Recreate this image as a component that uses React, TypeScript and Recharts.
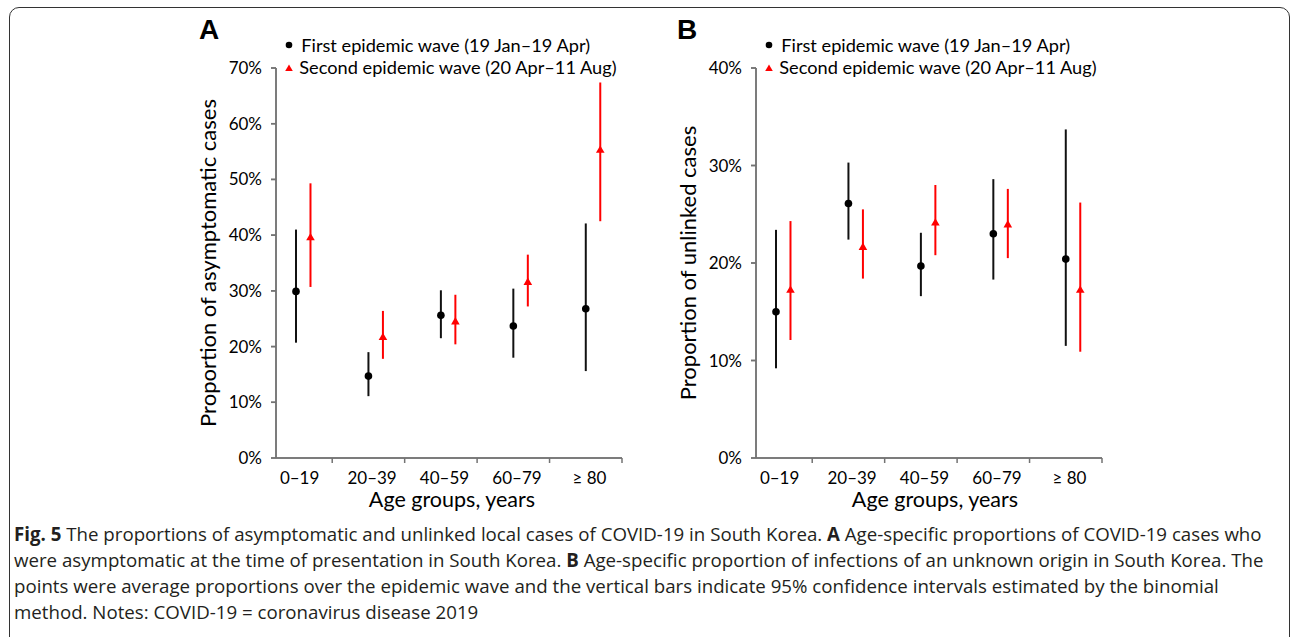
import { ErrorBar, Legend, ReferenceLine, Scatter, ScatterChart, XAxis, YAxis } from "recharts";

const ageGroups = ["0–19", "20–39", "40–59", "60–79", "≥ 80"];
const waveNames = [
  "First epidemic wave (19 Jan–19 Apr)",
  "Second epidemic wave (20 Apr–11 Aug)",
];

// Panel A: proportion of asymptomatic cases (%), point + 95% CI
const asymFirst = [29.9, 14.7, 25.6, 23.7, 26.8];
const asymFirstLow = [20.7, 11.1, 21.5, 18.0, 15.6];
const asymFirstHigh = [41.0, 19.0, 30.1, 30.4, 42.1];
const asymSecond = [39.7, 21.8, 24.6, 31.7, 55.4];
const asymSecondLow = [30.7, 17.8, 20.4, 27.2, 42.5];
const asymSecondHigh = [49.3, 26.4, 29.3, 36.5, 67.4];

// Panel B: proportion of unlinked cases (%)
const unlinkedFirst = [15.0, 26.1, 19.7, 23.0, 20.4];
const unlinkedFirstLow = [9.2, 22.4, 16.6, 18.3, 11.5];
const unlinkedFirstHigh = [23.4, 30.3, 23.1, 28.6, 33.7];
const unlinkedSecond = [17.3, 21.7, 24.2, 24.0, 17.3];
const unlinkedSecondLow = [12.1, 18.4, 20.8, 20.5, 10.9];
const unlinkedSecondHigh = [24.3, 25.5, 28.0, 27.6, 26.2];

const ticksA = [0, 10, 20, 30, 40, 50, 60, 70];
const ticksB = [0, 10, 20, 30, 40];

const FONT = "Lato, 'Open Sans', sans-serif";
const AXIS_GREY = "#737373";
const RED = "#ff0000";
const axisStroke = { stroke: AXIS_GREY, strokeWidth: 1.5 };

// x positions: group i sits at i+1, the two waves dodge left/right
const DODGE = 0.1;
const xDomain = [0.624, 5.4];
const boundaryTicks = ageGroups.map((_, i) => i + 1.4);
const labelTicks = ageGroups.map((_, i) => i + 0.95);
// tick mark length as a share of the axis spans (about 5px)
const TICK_X = 0.069;
const TICK_Y_SHARE = 5 / 390;

type Row = { x: number; y: number; err: [number, number] };

function makeRows(mid: number[], low: number[], high: number[], shift: number): Row[] {
  return mid.map((v, i) => ({
    x: i + 1 + shift,
    y: v,
    err: [v - low[i], high[i] - v],
  }));
}

const Dot = (p: any) => <circle cx={p.cx} cy={p.cy} r={3.8} fill="#000" />;
const Tri = (p: any) => (
  <polygon
    points={`${p.cx},${p.cy - 3.9} ${p.cx - 4.3},${p.cy + 3.5} ${p.cx + 4.3},${p.cy + 3.5}`}
    fill={RED}
  />
);

function WaveLegend({ payload }: any) {
  return (
    <div style={{ fontFamily: FONT, fontSize: 18.2, lineHeight: "22.7px", color: "#000" }}>
      {(payload ?? []).map((p: any, i: number) => (
        <div key={p.value} style={{ display: "flex", alignItems: "center", whiteSpace: "nowrap" }}>
          <svg width={10} height={10} style={{ marginRight: i === 0 ? 7 : 5 }}>
            {i === 0 ? (
              <circle cx={5} cy={5} r={3.3} fill={p.color} />
            ) : (
              <polygon points="5,1.5 1.2,8 8.8,8" fill={p.color} />
            )}
          </svg>
          <span>{p.value}</span>
        </div>
      ))}
    </div>
  );
}

type PanelProps = {
  left: number;
  first: Row[];
  second: Row[];
  yMax: number;
  yTicks: number[];
  yTitle: string;
  xTitleDx: number;
};

function Panel({ left, first, second, yMax, yTicks, yTitle, xTitleDx }: PanelProps) {
  const tickY = yMax * TICK_Y_SHARE;
  return (
    <div style={{ position: "absolute", left, top: 0, fontFamily: FONT }}>
      <ScatterChart
        width={460}
        height={530}
        margin={{ top: 68, right: 18, bottom: 19, left: 16 }}
      >
        {/* axis line with tick marks between the groups */}
        <XAxis
          xAxisId="a1"
          type="number"
          dataKey="x"
          domain={xDomain}
          ticks={boundaryTicks}
          tick={false}
          tickSize={5}
          height={5}
          stroke={AXIS_GREY}
          axisLine={axisStroke}
          tickLine={axisStroke}
        />
        {/* group names and axis title (same domain, used by the second wave) */}
        <XAxis
          xAxisId="b2"
          type="number"
          dataKey="x"
          domain={xDomain}
          ticks={labelTicks}
          tickFormatter={(v: number) => ageGroups[Math.round(v - 0.95)]}
          axisLine={false}
          tickLine={false}
          tickSize={0}
          tickMargin={9}
          height={48}
          tick={{ fill: "#000", fontSize: 17 }}
          label={{
            value: "Age groups, years",
            position: "insideBottom",
            offset: 4,
            dx: xTitleDx,
            style: { fill: "#000", fontSize: 21.5 },
          }}
        />
        <YAxis
          type="number"
          dataKey="y"
          domain={[0, yMax]}
          ticks={yTicks}
          tickFormatter={(v: number) => `${v}%`}
          width={80}
          tickSize={5}
          tickMargin={9}
          stroke={AXIS_GREY}
          axisLine={axisStroke}
          tickLine={axisStroke}
          tick={{ fill: "#000", fontSize: 17 }}
          label={{
            value: yTitle,
            angle: -90,
            position: "insideLeft",
            offset: 12,
            style: { fill: "#000", fontSize: 22, textAnchor: "middle" },
          }}
        />
        {/* explicit axis lines and tick marks */}
        <ReferenceLine xAxisId="a1" x={xDomain[0]} ifOverflow="visible" {...axisStroke} />
        <ReferenceLine xAxisId="a1" y={0} ifOverflow="visible" {...axisStroke} />
        {boundaryTicks.map((b) => (
          <ReferenceLine
            key={`bx${b}`}
            xAxisId="a1"
            ifOverflow="visible"
            segment={[{ x: b, y: 0 }, { x: b, y: -tickY }]}
            {...axisStroke}
          />
        ))}
        {yTicks.map((t) => (
          <ReferenceLine
            key={`ty${t}`}
            xAxisId="a1"
            ifOverflow="visible"
            segment={[{ x: xDomain[0] - TICK_X, y: t }, { x: xDomain[0], y: t }]}
            {...axisStroke}
          />
        ))}
        <Legend
          layout="vertical"
          align="center"
          verticalAlign="middle"
          content={<WaveLegend />}
          wrapperStyle={{ left: 104.3, top: 33.6, width: "auto", height: "auto" }}
        />
        <Scatter
          name={waveNames[0]}
          data={first}
          xAxisId="a1"
          fill="#000"
          shape={Dot}
          isAnimationActive={false}
        >
          <ErrorBar dataKey="err" direction="y" width={0} stroke="#111" strokeWidth={2} isAnimationActive={false} />
        </Scatter>
        <Scatter
          name={waveNames[1]}
          data={second}
          xAxisId="b2"
          fill={RED}
          shape={Tri}
          isAnimationActive={false}
        >
          <ErrorBar dataKey="err" direction="y" width={0} stroke={RED} strokeWidth={2} isAnimationActive={false} />
        </Scatter>
      </ScatterChart>
    </div>
  );
}

const letterStyle = {
  position: "absolute" as const,
  top: 14,
  fontFamily: "'Liberation Sans', Arial, sans-serif",
  fontWeight: 700,
  fontSize: 28,
  color: "#000",
};

export default function App() {
  return (
    <div
      style={{
        position: "absolute",
        left: 0,
        top: 0,
        width: 1290,
        height: 637,
        overflow: "hidden",
        background: "#fff",
      }}
    >
      <div
        style={{
          position: "absolute",
          left: 9,
          top: 7,
          width: 1281,
          height: 650,
          border: "1.5px solid #333",
          borderRadius: 10,
          boxSizing: "border-box",
        }}
      />
      <div style={{ ...letterStyle, left: 199 }}>A</div>
      <div style={{ ...letterStyle, left: 677 }}>B</div>

      <Panel
        left={180}
        first={makeRows(asymFirst, asymFirstLow, asymFirstHigh, -DODGE)}
        second={makeRows(asymSecond, asymSecondLow, asymSecondHigh, DODGE)}
        yMax={70}
        yTicks={ticksA}
        yTitle="Proportion of asymptomatic cases"
        xTitleDx={3}
      />
      <Panel
        left={660}
        first={makeRows(unlinkedFirst, unlinkedFirstLow, unlinkedFirstHigh, -DODGE)}
        second={makeRows(unlinkedSecond, unlinkedSecondLow, unlinkedSecondHigh, DODGE)}
        yMax={40}
        yTicks={ticksB}
        yTitle="Proportion of unlinked cases"
        xTitleDx={6}
      />

      <div
        style={{
          position: "absolute",
          left: 14,
          top: 520.7,
          fontFamily: "'Open Sans', sans-serif",
          fontSize: 18.7,
          lineHeight: "26px",
          color: "#231f20",
          whiteSpace: "nowrap",
        }}
      >
        <b>Fig. 5</b> The proportions of asymptomatic and unlinked local cases of COVID-19 in South Korea. <b>A</b> Age-specific proportions of COVID-19 cases who
        <br />
        were asymptomatic at the time of presentation in South Korea. <b>B</b> Age-specific proportion of infections of an unknown origin in South Korea. The
        <br />
        points were average proportions over the epidemic wave and the vertical bars indicate 95% confidence intervals estimated by the binomial
        <br />
        method. Notes: COVID-19 = coronavirus disease 2019
      </div>
    </div>
  );
}
